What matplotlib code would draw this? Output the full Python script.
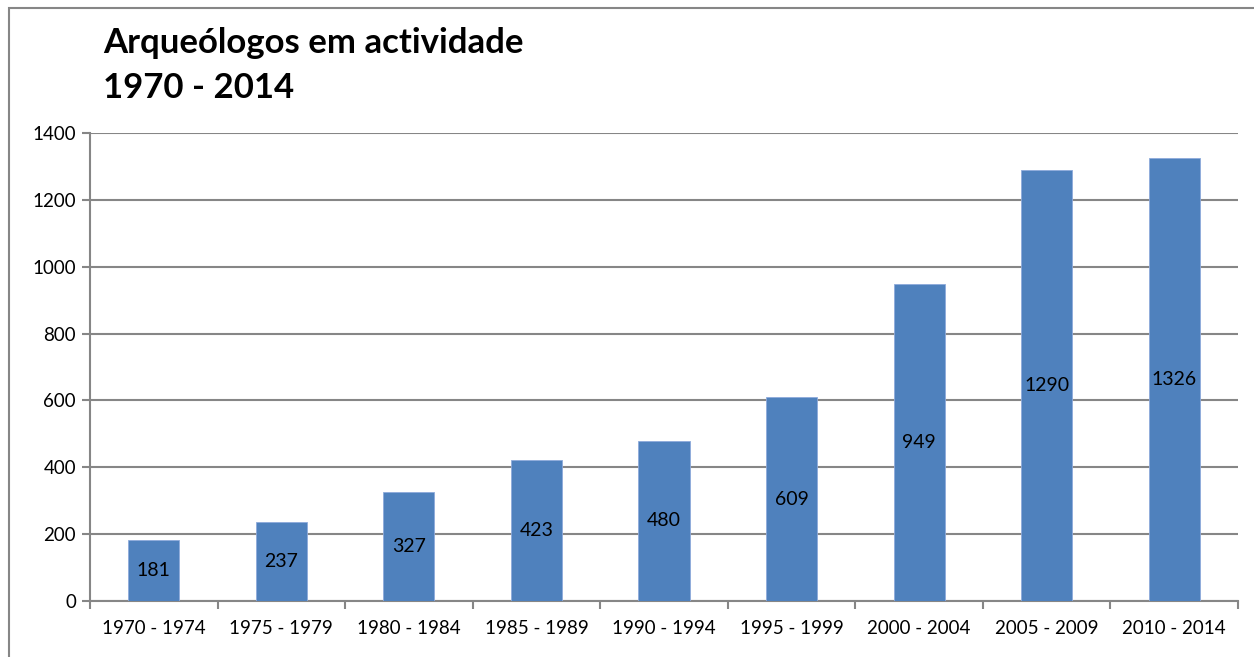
import matplotlib
matplotlib.use("Agg")
import matplotlib.pyplot as plt
from matplotlib.patches import Rectangle

categories = ["1970 - 1974", "1975 - 1979", "1980 - 1984", "1985 - 1989", "1990 - 1994",
              "1995 - 1999", "2000 - 2004", "2005 - 2009", "2010 - 2014"]
values = [181, 237, 327, 423, 480, 609, 949, 1290, 1326]
yticks = [0, 200, 400, 600, 800, 1000, 1200, 1400]

plt.rcParams['font.family'] = ['Lato', 'DejaVu Sans']

fig = plt.figure(figsize=(12.54, 6.57), dpi=100)
W, H = 1254, 657
ax = fig.add_axes([90 / W, 1 - 601 / H, (1238 - 90) / W, (601 - 133) / H])

grid_c = "#868686"
x = list(range(len(categories)))
ax.bar(x, values, width=0.4, color="#4F81BD", edgecolor="#8EAADB", linewidth=0.6, zorder=3)
ax.set_xlim(-0.5, len(categories) - 0.5)
ax.set_ylim(0, 1400)
ax.set_yticks(yticks)
ax.set_yticklabels([str(t) for t in yticks], fontsize=13.5)
ax.yaxis.grid(True, color=grid_c, linewidth=1.5, zorder=0)
ax.set_axisbelow(True)

ax.set_xticks([i - 0.5 for i in range(len(categories) + 1)])
ax.set_xticklabels([])
ax.set_xticks(x, minor=True)
ax.set_xticklabels(categories, minor=True, fontsize=13.5)
ax.tick_params(axis='x', which='minor', length=0, pad=14)
ax.tick_params(axis='x', which='major', length=6, color=grid_c, width=1.5)
ax.tick_params(axis='y', length=6, color=grid_c, width=1.5, pad=4)

for s in ["top", "right"]:
    ax.spines[s].set_visible(False)
for s in ["left", "bottom"]:
    ax.spines[s].set_color(grid_c)
    ax.spines[s].set_linewidth(1.5)

for i, v in enumerate(values):
    ax.text(i, v / 2, str(v), ha="center", va="center", fontsize=14, color="black", zorder=4)

fig.text(103 / W, 1 - 43 / H, "Arqueólogos em actividade", fontsize=25, fontweight="bold",
         ha="left", va="center")
fig.text(103 / W, 1 - 88 / H, "1970 - 2014", fontsize=25, fontweight="bold",
         ha="left", va="center")

fig.patches.append(Rectangle((9 / W, -0.05), 1.2, 1 - 8 / H + 0.05, transform=fig.transFigure,
                             fill=False, edgecolor=grid_c, linewidth=1.5))

fig.savefig("out.png", dpi=100)
